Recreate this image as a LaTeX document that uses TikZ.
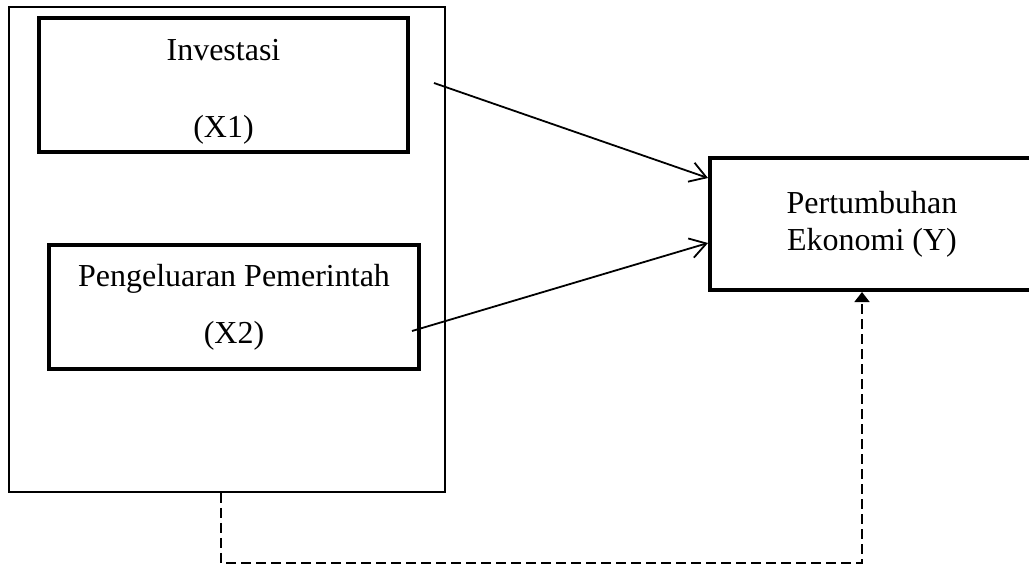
\documentclass[tikz,border=0pt]{standalone}
\usepackage{fontspec}
\setmainfont{Liberation Serif}
\usetikzlibrary{positioning,arrows.meta}

\begin{document}
\begin{tikzpicture}[x=0.5pt,y=-0.5pt,
  var/.style={draw,line width=2pt,align=center,inner sep=0pt,font=\fontsize{16}{18.5}\selectfont},
  grpbox/.style={draw,line width=0.75pt,inner sep=0pt},
  arr/.style={-{Straight Barb[length=8pt,width=10pt]},line width=0.9pt},
  dashline/.style={-{Triangle[length=5pt,width=7.5pt]},line width=0.8pt,dash pattern=on 5pt off 2.5pt}]

  \useasboundingbox (0,0) rectangle (1029,564);
  \clip (0,0) rectangle (1029,564);

  \node[grpbox,minimum width=218pt,minimum height=242.5pt] (grp) at (227,249.5) {};
  \node[var,minimum width=184.5pt,minimum height=67pt] (x1) at (223.5,85) {\rule{0pt}{17pt}Investasi\\[20pt](X1)};
  \node[var,minimum width=185pt,minimum height=62pt] (x2) at (234,307) {Pengeluaran Pemerintah\\[10pt](X2)};
  \node[var,minimum width=162pt,minimum height=66pt] (y) at (872,224) {Pertumbuhan\\Ekonomi (Y)};

  \coordinate (s1) at (434,83);
  \coordinate (s2) at (412,331);

  \draw[arr] (s1) -- ([yshift=23pt]y.west);
  \draw[arr] (s2) -- ([yshift=-9.5pt]y.west);
  \draw[dashline] ([xshift=-3pt]grp.south) -- ++(0,-35pt) -| ([xshift=-5pt]y.south);
\end{tikzpicture}
\end{document}
